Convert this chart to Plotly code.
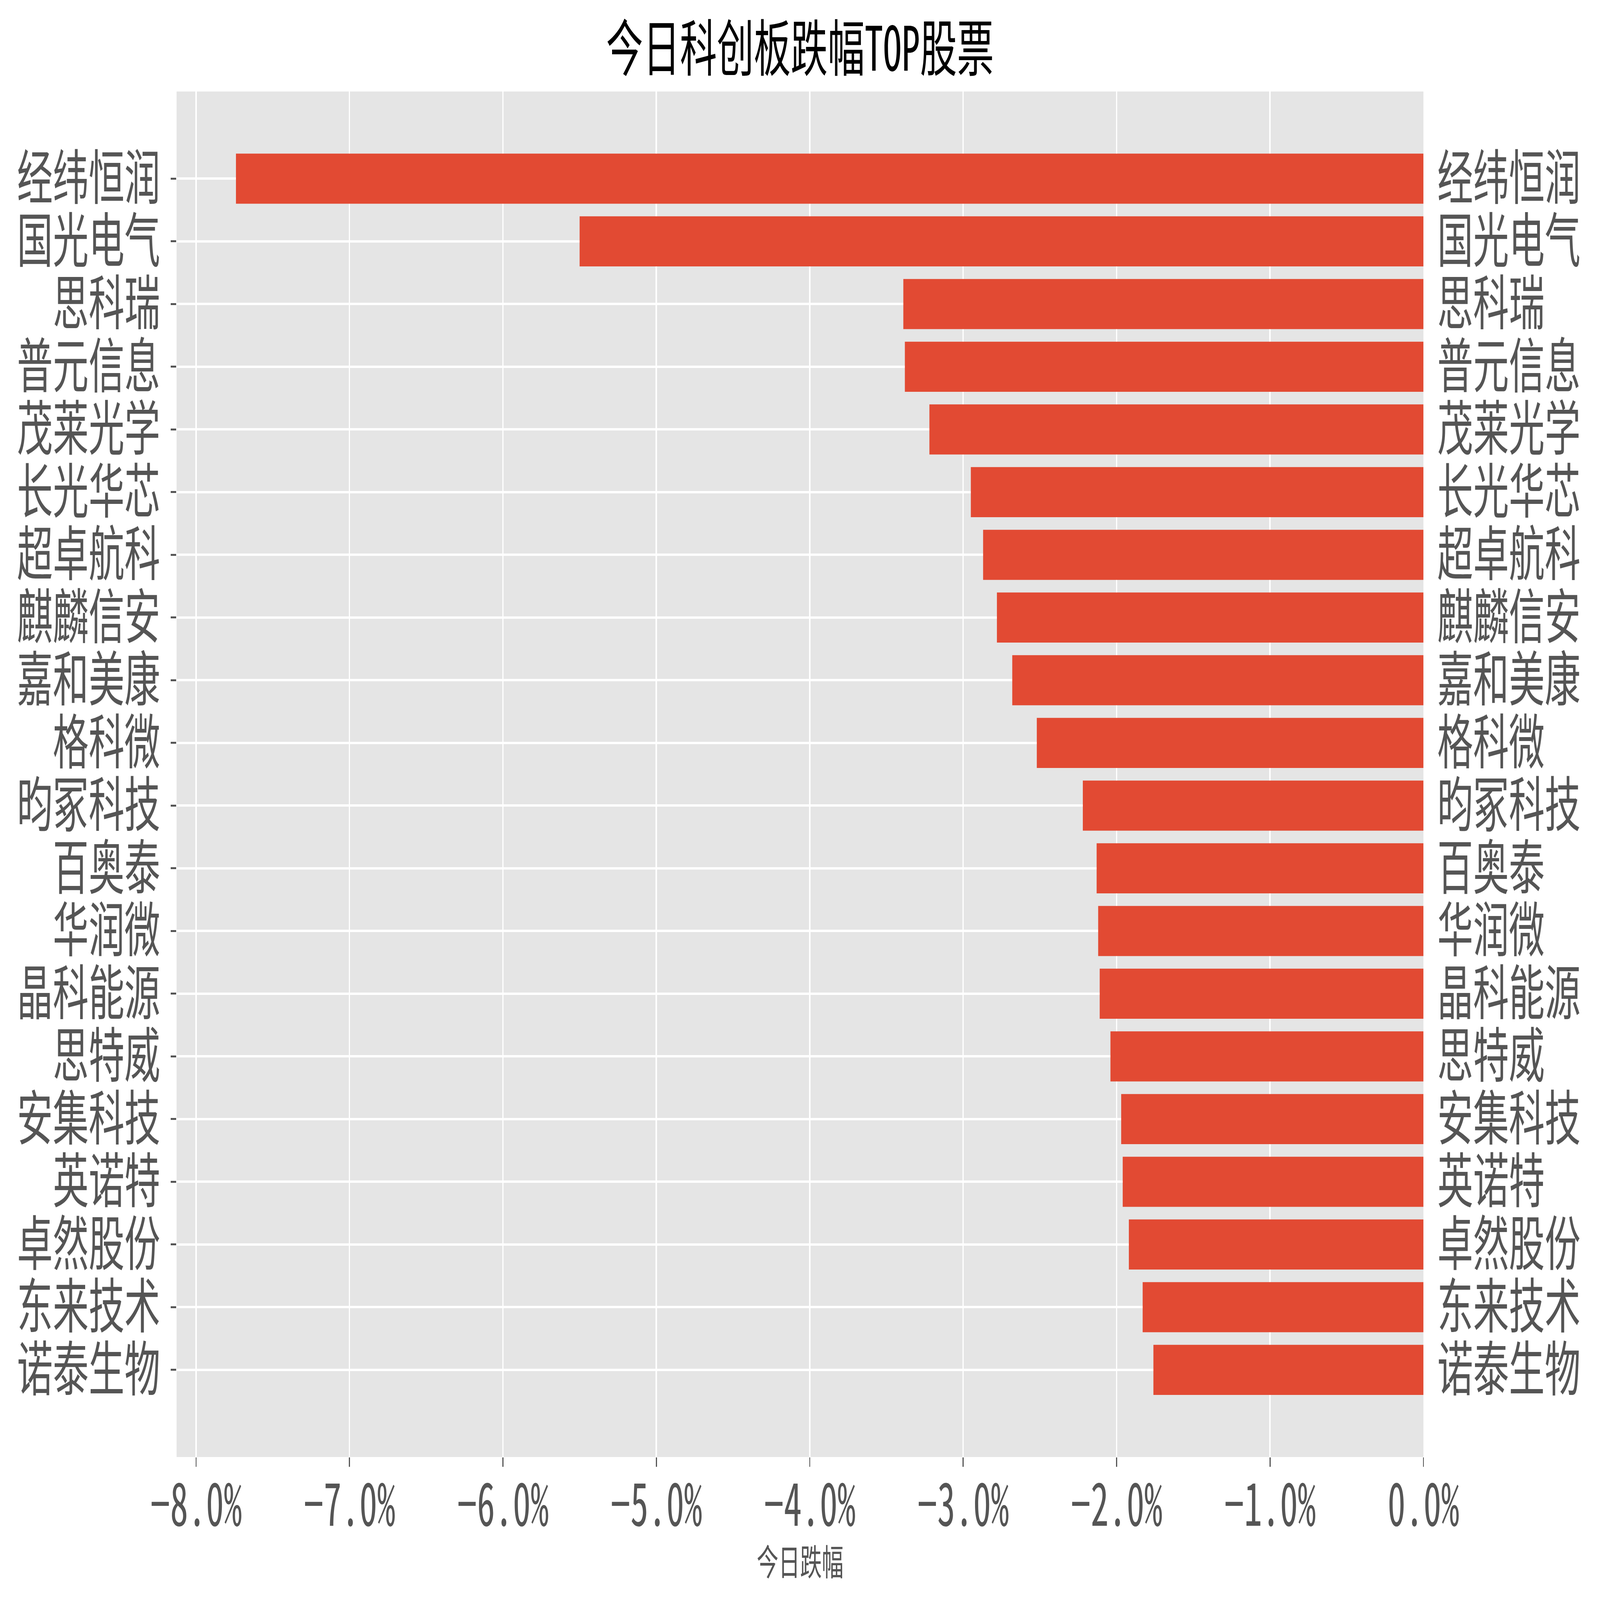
import plotly.graph_objects as go

# Datos del gráfico (de arriba hacia abajo)
nombres = ['经纬恒润', '国光电气', '思科瑞', '普元信息', '茂莱光学', '长光华芯', '超卓航科',
           '麒麟信安', '嘉和美康', '格科微', '昀冢科技', '百奥泰', '华润微', '晶科能源',
           '思特威', '安集科技', '英诺特', '卓然股份', '东来技术', '诺泰生物']
caida = [-7.74, -5.50, -3.39, -3.38, -3.22, -2.95, -2.87, -2.78, -2.68, -2.52,
         -2.22, -2.13, -2.12, -2.11, -2.04, -1.97, -1.96, -1.92, -1.83, -1.76]
ticks_x = [-8, -7, -6, -5, -4, -3, -2, -1, 0]

ANCHO, ALTO = 7149, 4319
MARGEN = dict(l=789, r=789, t=247, b=386)
fuente = 'Noto Sans Mono CJK SC, Noto Sans CJK SC, sans-serif'
gris = '#555555'

n = len(nombres)
rango_y = [n - 1 + 1.39, -1.39]
rango_x = [min(caida) * 1.05, 0]
# etiquetas del eje x con el signo menos tipográfico
texto_x = [('\u2212' if v < 0 else '') + '%.1f%%' % abs(v) for v in ticks_x]

fig = go.Figure()

# Barras horizontales
fig.add_trace(go.Bar(
    x=caida,
    y=nombres,
    orientation='h',
    marker=dict(color='#E24A33', line=dict(width=0)),
    showlegend=False,
))

# Traza invisible para las etiquetas del eje derecho
fig.add_trace(go.Scatter(
    x=caida,
    y=nombres,
    yaxis='y2',
    mode='markers',
    marker=dict(opacity=0),
    showlegend=False,
    hoverinfo='skip',
))

# Título del eje x, centrado bajo las etiquetas
alto_plot = ALTO - MARGEN['t'] - MARGEN['b']
fig.add_annotation(
    text='今日跌幅',
    xref='paper', yref='paper',
    x=0.5, y=-(4210 - (ALTO - MARGEN['b'])) / alto_plot,
    xanchor='center', yanchor='middle',
    showarrow=False,
    font=dict(family=fuente, size=97, color=gris),
)

fig.update_layout(
    width=ANCHO,
    height=ALTO,
    margin=dict(**MARGEN, autoexpand=False),
    paper_bgcolor='white',
    plot_bgcolor='#E5E5E5',
    bargap=0.2,
    font=dict(family=fuente, color=gris),
    title=dict(
        text='今日科创板跌幅TOP股票',
        x=0.5, xanchor='center',
        y=1 - 133 / ALTO, yanchor='middle',
        font=dict(family=fuente, size=165, color='black'),
    ),
    xaxis=dict(
        range=rango_x,
        tickmode='array',
        tickvals=ticks_x,
        ticktext=texto_x,
        tickangle=0,
        tickfont=dict(size=160, color=gris),
        ticks='outside', ticklen=25, tickwidth=5, tickcolor=gris,
        ticklabelstandoff=-32,
        showgrid=True, gridcolor='white', gridwidth=6,
        zeroline=False, showline=False,
        automargin=False,
    ),
    yaxis=dict(
        type='category',
        categoryorder='array', categoryarray=nombres,
        range=rango_y, dtick=1,
        tickfont=dict(size=160, color=gris),
        ticks='outside', ticklen=25, tickwidth=5, tickcolor=gris,
        ticklabelstandoff=15,
        showgrid=True, gridcolor='white', gridwidth=6,
        zeroline=False, showline=False,
        automargin=False,
    ),
    yaxis2=dict(
        type='category',
        categoryorder='array', categoryarray=nombres,
        range=rango_y, dtick=1,
        overlaying='y', side='right',
        tickfont=dict(size=160, color=gris),
        ticks='', ticklabelstandoff=61,
        showgrid=False, zeroline=False, showline=False,
        automargin=False,
    ),
)

# Ajusta la figura a la ventana del navegador
ajuste = """
var d = document.getElementById('{plot_id}');
document.body.style.margin = '0';
document.body.style.overflow = 'hidden';
var sx = window.innerWidth / %d, sy = window.innerHeight / %d;
d.style.transformOrigin = '0 0';
d.style.transform = 'scale(' + sx + ',' + sy + ')';
""" % (ANCHO, ALTO)

fig.write_html("out.html", post_script=ajuste, config={'displayModeBar': False})
